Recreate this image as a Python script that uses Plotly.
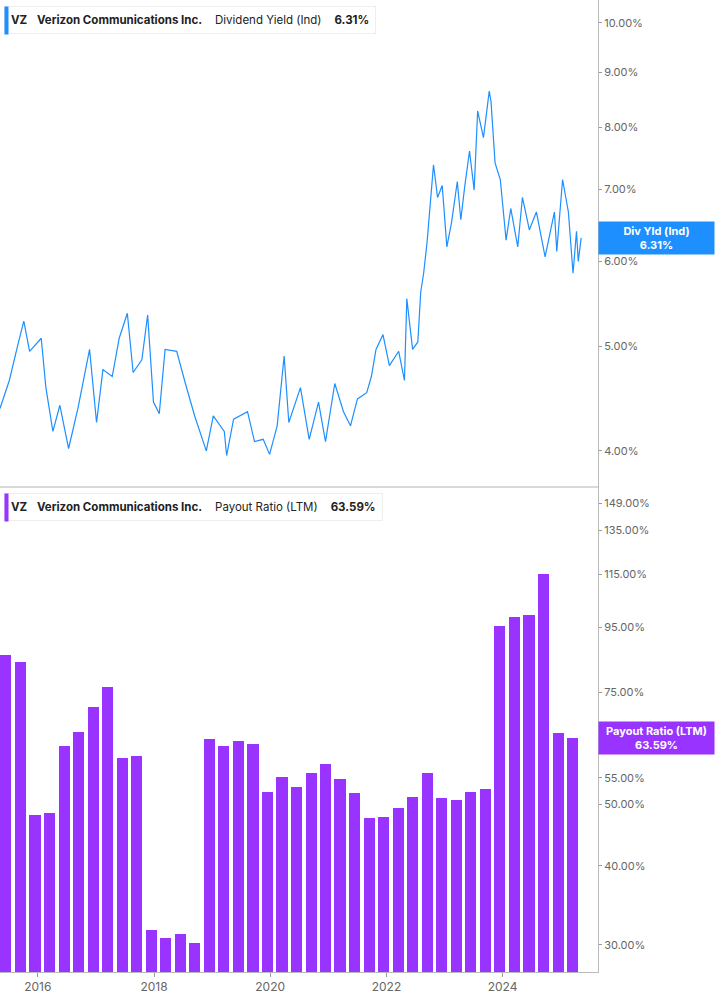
import math
import pandas as pd
import plotly.graph_objects as go
from plotly.subplots import make_subplots

# ── Data ──────────────────────────────────────────────────────────────────
# dividend yield, decimal-year timestamps and % values
yld_years = [2015.35, 2015.51, 2015.67, 2015.76, 2015.86, 2016.06, 2016.14, 2016.26, 2016.38, 2016.53,
             2016.69, 2016.89, 2017.01, 2017.12, 2017.28, 2017.40, 2017.54, 2017.64, 2017.79, 2017.89,
             2017.99, 2018.09, 2018.19, 2018.39, 2018.54, 2018.70, 2018.90, 2019.02, 2019.21, 2019.25,
             2019.37, 2019.61, 2019.73, 2019.88, 2019.99, 2020.12, 2020.24, 2020.32, 2020.52, 2020.67,
             2020.83, 2020.95, 2021.11, 2021.26, 2021.38, 2021.50, 2021.66, 2021.74, 2021.82, 2021.94,
             2022.05, 2022.21, 2022.31, 2022.35, 2022.45, 2022.54, 2022.59, 2022.64, 2022.70, 2022.76,
             2022.81, 2022.88, 2022.96, 2023.04, 2023.12, 2023.22, 2023.28, 2023.35, 2023.43, 2023.51,
             2023.57, 2023.67, 2023.77, 2023.80, 2023.87, 2023.96, 2024.06, 2024.14, 2024.26, 2024.34,
             2024.46, 2024.58, 2024.73, 2024.89, 2024.93, 2025.03, 2025.13, 2025.21, 2025.27, 2025.30,
             2025.35]
yld_values = [4.38, 4.65, 5.05, 5.28, 4.95, 5.09, 4.58, 4.17, 4.41, 4.02,
              4.38, 4.97, 4.25, 4.76, 4.69, 5.09, 5.37, 4.73, 4.86, 5.35,
              4.44, 4.33, 4.97, 4.95, 4.62, 4.31, 4.00, 4.31, 4.17, 3.96,
              4.28, 4.35, 4.08, 4.10, 3.97, 4.22, 4.90, 4.25, 4.58, 4.10,
              4.44, 4.08, 4.62, 4.35, 4.22, 4.47, 4.53, 4.69, 4.97, 5.13,
              4.80, 4.95, 4.65, 5.54, 4.97, 5.05, 5.62, 5.85, 6.26, 6.85,
              7.38, 6.88, 7.06, 6.19, 6.52, 7.12, 6.56, 7.06, 7.60, 6.99,
              8.28, 7.82, 8.64, 8.45, 7.41, 7.15, 6.28, 6.72, 6.19, 6.88,
              6.42, 6.67, 6.06, 6.67, 6.13, 7.15, 6.67, 5.85, 6.40, 6.00,
              6.31]

# quarterly payout ratio (LTM), %
payout_quarters = pd.date_range("2015-05-15", periods=40, freq="3MS") + pd.Timedelta(days=14)
payout_values = [85.8, 83.7, 48.0, 48.5, 61.8, 65.0, 71.0, 76.4, 59.1, 59.5,
                 31.7, 30.8, 31.2, 30.2, 63.3, 61.8, 62.9, 62.2, 52.2, 55.2,
                 53.2, 56.0, 57.9, 54.7, 52.0, 47.5, 47.7, 49.3, 51.4, 55.9,
                 51.2, 50.8, 52.2, 52.8, 95.4, 98.5, 99.3, 115.0, 64.6, 63.59]

yld_ticks = [4, 5, 6, 7, 8, 9, 10]
payout_ticks = [30, 40, 50, 55, 75, 95, 115, 135, 149]
year_ticks = [2016, 2018, 2020, 2022, 2024]

BLUE = "#1e8fff"
PURPLE = "#9933ff"
GRAY = "#666666"
FONT = "Inter"


def yr(y):
    start = pd.Timestamp(int(y), 1, 1)
    return start + (pd.Timestamp(int(y) + 1, 1, 1) - start) * (y - int(y))


fig = make_subplots(rows=2, cols=1, shared_xaxes=True, vertical_spacing=0.0)

fig.add_trace(go.Scatter(x=[yr(v) for v in yld_years], y=yld_values, mode="lines",
                         line=dict(color=BLUE, width=1.2)), row=1, col=1)
fig.add_trace(go.Bar(x=payout_quarters, y=payout_values, marker_color=PURPLE,
                     marker_line_width=0, width=70 * 86400e3), row=2, col=1)

xr = [yr(2015.35), yr(2025.64)]
for r in (1, 2):
    fig.update_xaxes(range=xr, showgrid=False, row=r, col=1,
                     tickvals=[pd.Timestamp(y, 1, 1) for y in year_ticks],
                     ticktext=[str(y) for y in year_ticks])
fig.update_xaxes(showticklabels=False, row=1, col=1)
fig.update_xaxes(ticks="outside", ticklen=4, tickcolor="#999", showline=True,
                 linecolor="#bbb", tickfont=dict(size=12, color=GRAY, family=FONT),
                 row=2, col=1)

yax = dict(type="log", side="right", showgrid=False, showline=True, linecolor="#bbb",
           ticks="outside", ticklen=3, tickcolor="#999",
           tickfont=dict(size=11, color=GRAY, family=FONT))
fig.update_yaxes(range=[math.log10(3.71), math.log10(10.5)], tickvals=yld_ticks,
                 ticktext=[f"{v:.2f}%" for v in yld_ticks], row=1, col=1, **yax)
fig.update_yaxes(range=[math.log10(27.2), math.log10(158.5)], tickvals=payout_ticks,
                 ticktext=[f"{v:.2f}%" for v in payout_ticks], row=2, col=1, **yax)

# separator between panels
fig.add_shape(type="line", xref="paper", yref="paper", x0=0, x1=1, y0=0.499, y1=0.499,
              line=dict(color="#ccc", width=1.5))

# header boxes with a coloured left strip
headers = [(0.9935, BLUE, "Dividend Yield (Ind)", "6.31%"),
           (0.4925, PURPLE, "Payout Ratio (LTM)", "63.59%")]
for ypos, col, label, val in headers:
    fig.add_annotation(xref="paper", yref="paper", x=0.007, y=ypos, xanchor="left", yanchor="top",
                       text=f"<b>VZ</b>   <b>Verizon Communications Inc.</b>    {label}    <b>{val}</b>",
                       showarrow=False, align="left", bgcolor="white", bordercolor="#eee",
                       borderwidth=1, borderpad=6, font=dict(size=11.5, color="#222", family=FONT))
    fig.add_annotation(xref="paper", yref="paper", x=0.007, y=ypos, xanchor="left", yanchor="top",
                       text=" ", showarrow=False, bgcolor=col, width=3, height=27,
                       borderpad=0, font=dict(size=2))

# last-value tags on the right axis
fig.add_annotation(xref="paper", yref="y", x=1.0, y=math.log10(6.31), xanchor="left",
                   text="<b>Div Yld (Ind)<br>6.31%</b>", showarrow=False, bgcolor=BLUE,
                   width=111, borderpad=2, font=dict(size=11, color="white", family=FONT))
fig.add_annotation(xref="paper", yref="y2", x=1.0, y=math.log10(63.59), xanchor="left",
                   text="<b>Payout Ratio (LTM)<br>63.59%</b>", showarrow=False, bgcolor=PURPLE,
                   width=111, borderpad=2, font=dict(size=11, color="white", family=FONT))

fig.update_layout(width=717, height=1005, margin=dict(l=0, r=119, t=0, b=33),
                  plot_bgcolor="white", paper_bgcolor="white", showlegend=False, bargap=0)
fig.write_html("out.html", config={"displayModeBar": False},
               post_script="document.body.style.margin='0';")
